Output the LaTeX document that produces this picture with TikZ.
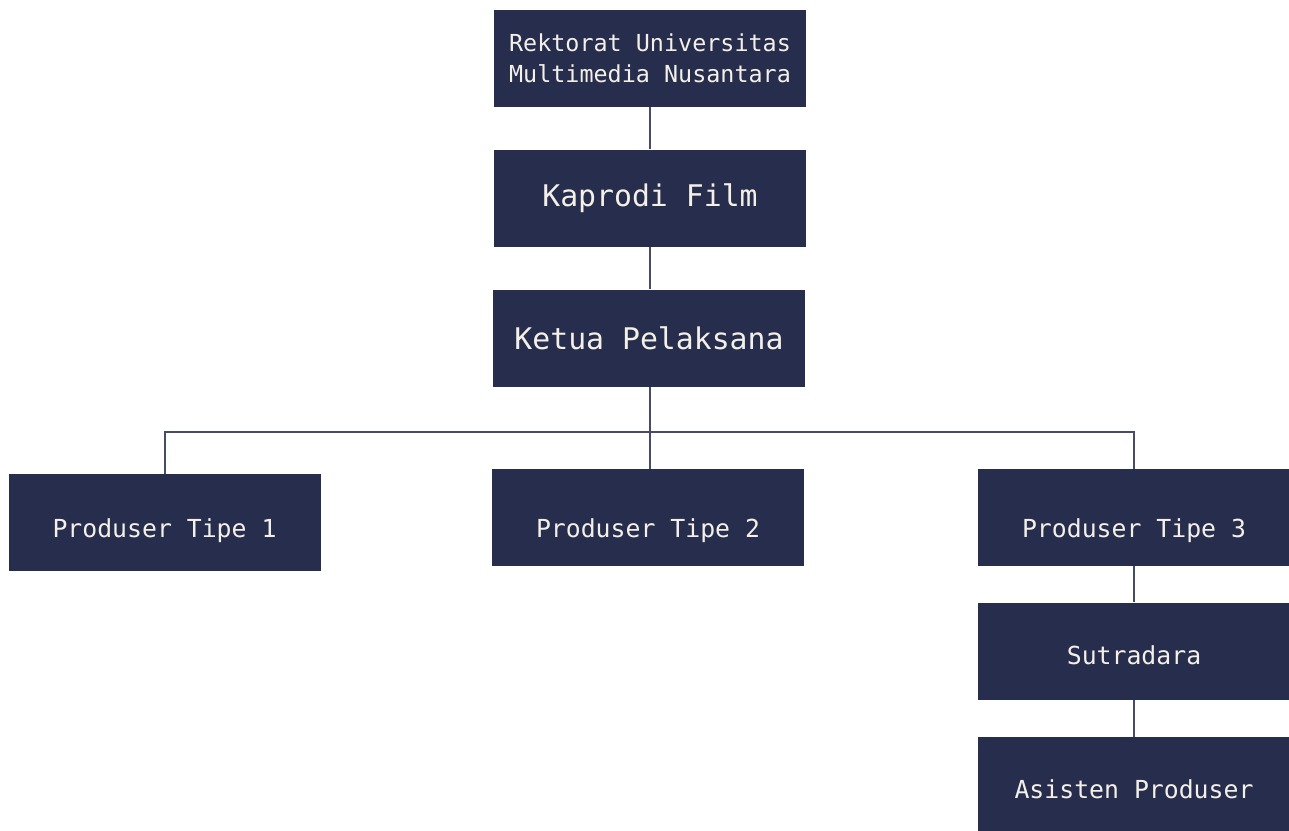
\documentclass[tikz,border=0pt]{standalone}
\usepackage{fontspec}
\newfontfamily\orgfont{DejaVu Sans Mono}
\usepackage{tikz}
\definecolor{boxnavy}{HTML}{272D4D}
\definecolor{boxtext}{HTML}{F4F0E8}
\definecolor{linkgray}{HTML}{464B66}

\begin{document}
\begin{tikzpicture}[x=0.5pt, y=-0.5pt,
  jabatan/.style = {fill=boxnavy, text=boxtext, minimum width=156pt, minimum height=48.5pt, inner sep=0pt, align=center, font=\orgfont\fontsize{12.4}{15.5}\selectfont},
  besar/.style = {font=\orgfont\fontsize{14.9}{18}\selectfont},
  kecil/.style = {font=\orgfont\fontsize{11.7}{15.5}\selectfont},
  turun/.style = {text height=#1},
  link/.style = {draw=linkgray, line width=1pt}]

\useasboundingbox (0,0) rectangle (1289,830);

%% boxes
\node[jabatan, kecil] (rektor) at (650, 58.5) {Rektorat Universitas\\Multimedia Nusantara};
\node[jabatan, besar] (kaprodi) at (650, 198) {Kaprodi Film};
\node[jabatan, besar] (ketua) at (649, 338) {Ketua Pelaksana};
\node[jabatan, turun=17.4pt] (tipe1) at (164.5, 522.5) {Produser Tipe 1};
\node[jabatan, turun=22.4pt] (tipe2) at (648, 517.5) {Produser Tipe 2};
\node[jabatan, turun=22.4pt] (tipe3) at (1134, 517.5) {Produser Tipe 3};
\node[jabatan, turun=13.4pt] (sutradara) at (1134, 651) {Sutradara};
\node[jabatan, turun=13.4pt] (asisten) at (1134, 785.5) {Asisten Produser};

\coordinate (bar) at (650, 432);

%% links
\draw[link] (rektor) -- (kaprodi);
\draw[link] (kaprodi) -- (kaprodi |- ketua.north);
\draw[link] (bar |- ketua.south) -- (bar |- tipe2.north);
\draw[link] (tipe1.north) |- (bar) -| (tipe3.north);
\draw[link] (tipe3) -- (sutradara);
\draw[link] (sutradara) -- (asisten);

\end{tikzpicture}
\end{document}
